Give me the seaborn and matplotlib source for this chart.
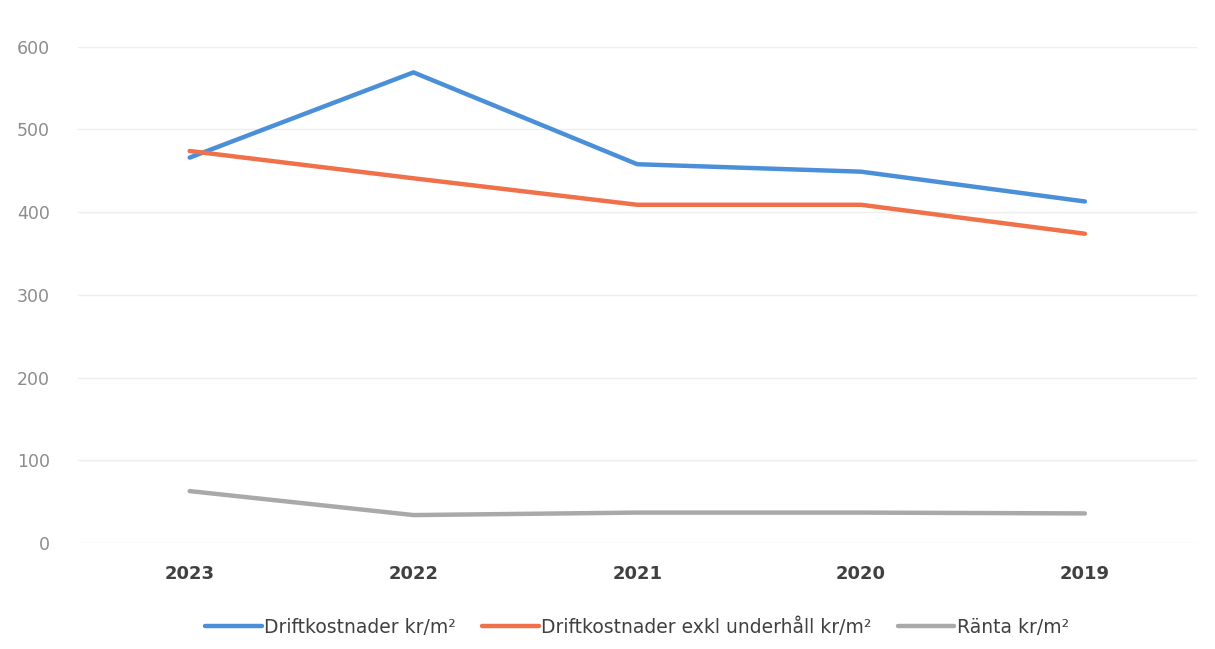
import pandas as pd
import matplotlib.pyplot as plt
import seaborn as sns

# Values
years = ['2023', '2022', '2021', '2020', '2019']
drift = [466, 569, 458, 449, 413]
drift_exkl = [474, 441, 409, 409, 374]
ranta = [63, 34, 37, 37, 36]

series_names = ['Driftkostnader kr/m²', 'Driftkostnader exkl underhåll kr/m²', 'Ränta kr/m²']
colors = ['#4a8fd8', '#f0704a', '#a9a9a9']

data = pd.DataFrame({
    'year': years * 3,
    'value': drift + drift_exkl + ranta,
    'serie': [s for s in series_names for _ in years],
})

sns.set_style('white')
fig = plt.figure(figsize=(12.15, 6.49), dpi=100)
ax = fig.add_axes([0.064, 0.163, 0.921, 0.765])

sns.lineplot(data=data, x='year', y='value', hue='serie', hue_order=series_names,
             palette=colors, linewidth=3.2, sort=False, ax=ax, legend=True)

ax.set_xlim(-0.5, 4.5)
ax.set_ylim(0, 600)
ax.set_yticks(range(0, 601, 100))
ax.grid(axis='y', color='#eeeeee', linewidth=1)
for s in ax.spines.values():
    s.set_visible(False)
ax.set_xlabel('')
ax.set_ylabel('')
ax.tick_params(axis='y', colors='#8c8c8c', labelsize=12.5, length=0, pad=20)
ax.tick_params(axis='x', colors='#404040', labelsize=13, length=0, pad=16)
for lab in ax.get_xticklabels():
    lab.set_fontweight('bold')

handles, labels = ax.get_legend_handles_labels()
ax.legend(handles, labels, loc='upper center', bbox_to_anchor=(0.5, -0.115), ncol=3,
          frameon=False, fontsize=13.5, handlelength=3.0, handletextpad=0.15,
          columnspacing=1.4, labelcolor='#404040')

fig.savefig('out.png', dpi=100)
